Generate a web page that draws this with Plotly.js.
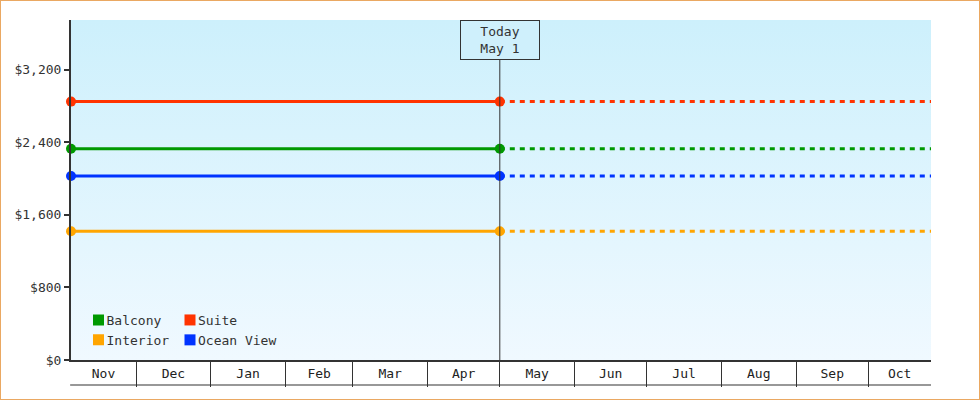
<!DOCTYPE html>
<html>
<head>
<meta charset="utf-8">
<script src="https://cdn.plot.ly/plotly-3.0.1.min.js"></script>
<style>
  html, body { margin: 0; padding: 0; background: #fff; }
  #wrap { position: relative; width: 980px; height: 400px; box-sizing: border-box; border: 1px solid #eaa862; background: #fff; }
  #bg { position: absolute; left: 70px; top: 19px; width: 860px; height: 340px;
        background: linear-gradient(to bottom, #cdf0fc 0%, #f0f9ff 100%); }
  #chart { position: absolute; left: -1px; top: -1px; width: 980px; height: 400px; }
</style>
</head>
<body>
<div id="wrap">
  <div id="bg"></div>
  <div id="chart"></div>
</div>
<script>
'use strict';

// ── data ──
const seriesNames  = ['Balcony', 'Suite', 'Interior', 'Ocean View'];
const seriesColors = ['#009900', '#ff3300', '#ffa500', '#0033ff'];
const seriesPrices = [2330, 2850, 1420, 2030];
const legendCol    = ['legend', 'legend2', 'legend', 'legend2'];

const startDate = '2024-11-04';
const todayDate = '2025-05-01';
const endDate   = '2025-10-27';
const todayText = ['Today', 'May 1'];

const monthStarts = ['2024-11-01', '2024-12-01', '2025-01-01', '2025-02-01', '2025-03-01', '2025-04-01',
                     '2025-05-01', '2025-06-01', '2025-07-01', '2025-08-01', '2025-09-01', '2025-10-01', '2025-11-01'];
const monthNames  = ['Nov', 'Dec', 'Jan', 'Feb', 'Mar', 'Apr', 'May', 'Jun', 'Jul', 'Aug', 'Sep', 'Oct'];

const yMax = 3750, yStep = 800;

// label positions: middle of the visible part of each month
const t = d => new Date(d + 'T00:00:00Z').getTime();
const iso = ms => new Date(ms).toISOString().slice(0, 19).replace('T', ' ');
const labelVals = monthNames.map((_, i) => {
    const a = Math.max(t(monthStarts[i]), t(startDate));
    const b = Math.min(t(monthStarts[i + 1]), t(endDate));
    return iso((a + b) / 2);
});

const FONT = '"DejaVu Sans Mono", monospace';
const traces = [];
seriesNames.forEach((name, i) => {
    const c = seriesColors[i], v = seriesPrices[i];
    traces.push({ x: [startDate, todayDate], y: [v, v], type: 'scatter', mode: 'lines+markers',
        line: { color: c, width: 3 }, marker: { color: c, size: 10 }, cliponaxis: false,
        showlegend: false, hoverinfo: 'skip' });
    traces.push({ x: [todayDate, endDate], y: [v, v], type: 'scatter', mode: 'lines',
        line: { color: c, width: 3, dash: '5px,5px' }, showlegend: false, hoverinfo: 'skip' });
});
// legend swatches
seriesNames.forEach((name, i) => {
    traces.push({ x: [null], y: [null], type: 'scatter', mode: 'markers', name,
        marker: { color: seriesColors[i], symbol: 'square', size: 11 }, legend: legendCol[i] });
});
// axis carrying the month names
traces.push({ x: [startDate, endDate], y: [null, null], xaxis: 'x2', type: 'scatter', mode: 'lines',
    showlegend: false, hoverinfo: 'skip' });

const plotW = 860, plotH = 340, tickLen = 25;
const legendBase = { orientation: 'v', xanchor: 'left', yanchor: 'middle', bgcolor: 'rgba(0,0,0,0)',
    font: { family: FONT, size: 13, color: '#333' }, itemwidth: 30, tracegroupgap: 0,
    y: 30 / plotH, traceorder: 'normal' };

const layout = {
    width: 980, height: 400,
    margin: { l: 71, r: 49, t: 20, b: 40 },
    paper_bgcolor: 'rgba(0,0,0,0)', plot_bgcolor: 'rgba(0,0,0,0)',
    font: { family: FONT, size: 13, color: '#333' },
    showlegend: true,
    legend:  Object.assign({}, legendBase, { x: -4.5 / plotW }),
    legend2: Object.assign({}, legendBase, { x: 87 / plotW }),
    xaxis: {
        type: 'date', range: [startDate, endDate], tickvals: monthStarts, showticklabels: false,
        ticks: 'outside', ticklen: tickLen, tickwidth: 1, tickcolor: '#333',
        showline: true, linecolor: '#333', linewidth: 1.5, showgrid: false, zeroline: false, fixedrange: true
    },
    xaxis2: {
        type: 'date', overlaying: 'x', anchor: 'y', side: 'bottom', range: [startDate, endDate],
        tickvals: labelVals, ticktext: monthNames, ticks: '', showline: false, showgrid: false,
        zeroline: false, ticklabelstandoff: 4, tickfont: { family: FONT, size: 13, color: '#222' }
    },
    yaxis: {
        range: [0, yMax], dtick: yStep, tick0: 0, tickprefix: '$', tickformat: ',',
        ticks: 'outside', ticklen: 5, tickwidth: 2, tickcolor: '#333',
        showline: true, linecolor: '#333', linewidth: 2, showgrid: false, zeroline: false,
        tickfont: { family: FONT, size: 13, color: '#333' }
    },
    shapes: [
        { type: 'line', xref: 'x', yref: 'paper', x0: todayDate, x1: todayDate, y0: 0, y1: 1,
          line: { color: '#333', width: 1 } },
        { type: 'line', xref: 'paper', yref: 'paper', x0: -0.001, x1: 1, y0: -tickLen / plotH, y1: -tickLen / plotH,
          line: { color: '#333', width: 1.2 } }
    ],
    annotations: [{
        x: todayDate, xref: 'x', y: 1, yref: 'paper', yanchor: 'top', xanchor: 'center',
        text: todayText.join('<br>'), showarrow: false, width: 78, height: 38, borderpad: 0,
        bordercolor: '#333', borderwidth: 1, bgcolor: '#cff0fc',
        font: { family: FONT, size: 13, color: '#333' }
    }]
};

Plotly.newPlot('chart', traces, layout, { staticPlot: true }).then(() => {
    // pull the swatches closer to their labels
    document.querySelectorAll('#chart .infolayer > g[class^="legend"] .traces .layers')
        .forEach(g => g.setAttribute('transform', 'translate(12,0)'));
});
</script>
</body>
</html>
